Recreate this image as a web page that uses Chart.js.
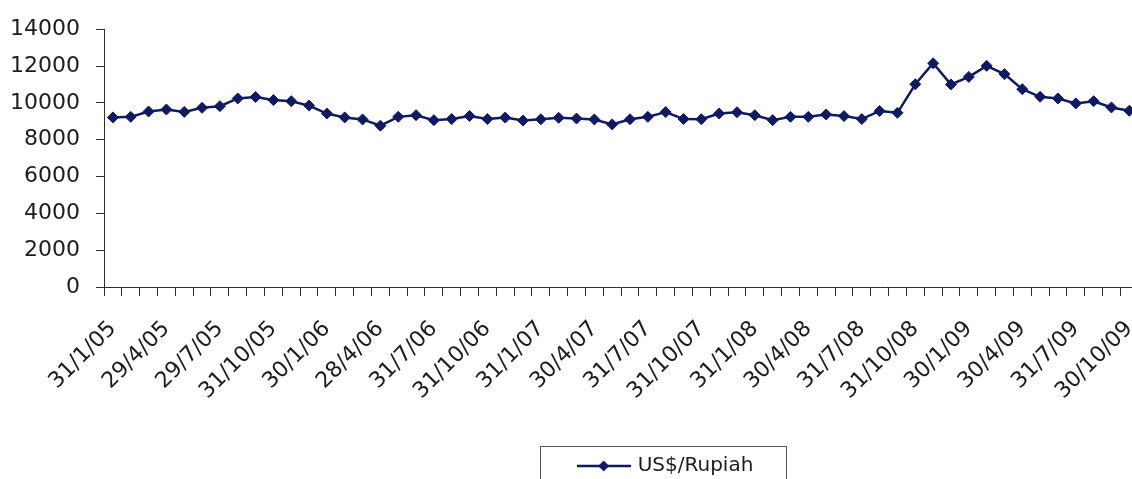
<!DOCTYPE html>
<html>
<head>
<meta charset="utf-8">
<script src="https://cdn.jsdelivr.net/npm/chart.js@4.4.0/dist/chart.umd.min.js"></script>
<style>
  html, body { margin: 0; padding: 0; background: #ffffff; overflow: hidden; }
  #wrap { width: 1132px; height: 479px; overflow: hidden; position: relative; }
  canvas { display: block; }
</style>
</head>
<body>
<div id="wrap"><canvas id="c" width="1168" height="500"></canvas></div>
<script>
// Month-end fixing dates, Jan 2005 - Oct 2009
const categories = [
  '31/1/05','28/2/05','31/3/05','29/4/05','31/5/05','30/6/05','29/7/05','31/8/05','30/9/05','31/10/05','30/11/05','30/12/05',
  '30/1/06','28/2/06','31/3/06','28/4/06','31/5/06','30/6/06','31/7/06','31/8/06','29/9/06','31/10/06','30/11/06','29/12/06',
  '31/1/07','28/2/07','30/3/07','30/4/07','31/5/07','29/6/07','31/7/07','31/8/07','28/9/07','31/10/07','30/11/07','31/12/07',
  '31/1/08','29/2/08','31/3/08','30/4/08','30/5/08','30/6/08','31/7/08','29/8/08','30/9/08','31/10/08','28/11/08','31/12/08',
  '30/1/09','27/2/09','31/3/09','30/4/09','29/5/09','30/6/09','31/7/09','31/8/09','30/9/09','30/10/09'
];

// Rupiah per US dollar at each month end
const rupiahPerDollar = [
  9210, 9240, 9530, 9640, 9510, 9730, 9820, 10240, 10320, 10150, 10090, 9850,
  9420, 9210, 9100, 8760, 9240, 9330, 9060, 9120, 9290, 9120, 9200, 9040,
  9110, 9190, 9150, 9100, 8830, 9110, 9240, 9500, 9120, 9110, 9420, 9490,
  9330, 9060, 9240, 9240, 9370, 9280, 9120, 9560, 9460, 11010, 12150, 11000,
  11410, 12010, 11560, 10740, 10330, 10240, 9970, 10090, 9750, 9570
];

const seriesName = 'US$/Rupiah';
const yTickValues = [0, 2000, 4000, 6000, 8000, 10000, 12000, 14000];
const labelEvery = 3;

const NAVY = '#0f1a62';
const AXIS = '#2e2e2e';
const TEXT = '#1c1c1c';
const FONT = 'DejaVu Sans';

// small line-with-diamond swatch for the legend entry
function legendSwatch() {
  const c = document.createElement('canvas');
  c.width = 54; c.height = 14;
  const g = c.getContext('2d');
  g.strokeStyle = NAVY; g.lineWidth = 2.5;
  g.beginPath(); g.moveTo(0, 7); g.lineTo(54, 7); g.stroke();
  g.fillStyle = NAVY;
  g.beginPath(); g.moveTo(27, 1.5); g.lineTo(32.5, 7); g.lineTo(27, 12.5); g.lineTo(21.5, 7); g.closePath(); g.fill();
  return c;
}
const swatch = legendSwatch();

// framed legend below the axis labels
const legendFrame = {
  id: 'legendFrame',
  afterLayout(chart) {
    const lg = chart.legend;
    lg.left = 543; lg.right = 790; lg.width = 247;
    lg.top = 447; lg.bottom = 486; lg.height = 39;
  },
  afterDraw(chart) {
    const ctx = chart.ctx;
    ctx.save();
    ctx.strokeStyle = '#555555';
    ctx.lineWidth = 1;
    ctx.strokeRect(540.5, 446.5, 246, 60);
    ctx.restore();
  }
};

new Chart(document.getElementById('c'), {
  type: 'line',
  data: {
    labels: categories,
    datasets: [{
      label: seriesName,
      data: rupiahPerDollar,
      borderColor: NAVY,
      backgroundColor: NAVY,
      borderWidth: 2.5,
      tension: 0,
      pointStyle: 'rectRot',
      pointRadius: 5.5,
      pointBackgroundColor: NAVY,
      pointBorderColor: NAVY,
      pointBorderWidth: 1,
      fill: false
    }]
  },
  options: {
    responsive: false,
    animation: false,
    events: [],
    layout: { padding: { left: 0, top: 29, right: 0, bottom: 54 } },
    plugins: {
      tooltip: { enabled: false },
      legend: {
        position: 'bottom',
        labels: {
          usePointStyle: true,
          pointStyleWidth: 48,
          padding: 9,
          color: TEXT,
          font: { family: FONT, size: 20 },
          generateLabels: (chart) => [{
            text: seriesName,
            pointStyle: swatch,
            fillStyle: NAVY,
            strokeStyle: NAVY,
            lineWidth: 0,
            hidden: false,
            datasetIndex: 0,
            fontColor: TEXT
          }]
        }
      }
    },
    scales: {
      x: {
        type: 'category',
        offset: true,
        grid: {
          offset: true,
          drawOnChartArea: false,
          drawTicks: true,
          tickLength: 9,
          color: AXIS,
          lineWidth: 1
        },
        border: { display: true, color: AXIS, width: 1 },
        ticks: {
          autoSkip: false,
          maxRotation: 45,
          minRotation: 45,
          padding: 20,
          color: TEXT,
          font: { family: FONT, size: 22 },
          callback: function (value, index) {
            return index % labelEvery === 0 ? this.getLabelForValue(value) : '';
          }
        },
        afterFit(scale) { scale.height = 120; }
      },
      y: {
        min: yTickValues[0],
        max: yTickValues[yTickValues.length - 1],
        grid: {
          drawOnChartArea: false,
          drawTicks: true,
          tickLength: 8,
          color: AXIS,
          lineWidth: 1
        },
        border: { display: true, color: AXIS, width: 1 },
        afterBuildTicks(scale) { scale.ticks = yTickValues.map(v => ({ value: v })); },
        ticks: {
          padding: 16,
          color: TEXT,
          font: { family: FONT, size: 22 },
          callback: (value) => String(value)
        },
        afterFit(scale) { scale.width = 104; }
      }
    }
  },
  plugins: [legendFrame]
});
</script>
</body>
</html>
